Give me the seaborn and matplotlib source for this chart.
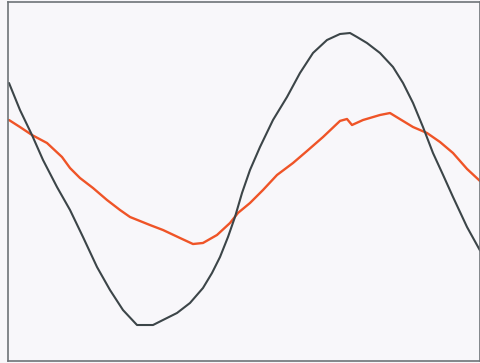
import matplotlib
matplotlib.use('Agg')
import matplotlib.pyplot as plt
import seaborn as sns
import pandas as pd

# channel 1 (dark trace)
ch1_t = [0.021, 0.254, 0.508, 0.742, 1.038, 1.314, 1.589, 1.886, 2.161, 2.436, 2.733,
         3.072, 3.284, 3.581, 3.856, 4.131, 4.322, 4.492, 4.661, 4.809, 4.958, 5.127,
         5.339, 5.614, 5.911, 6.186, 6.462, 6.758, 7.034, 7.246, 7.394, 7.606, 7.881,
         8.157, 8.369, 8.581, 8.792, 9.004, 9.216, 9.428, 9.725, 10.0]
ch1_v = [2.195, 1.593, 1.036, 0.479, -0.123, -0.635, -1.237, -1.906, -2.418, -2.864, -3.198,
         -3.198, -3.086, -2.930, -2.707, -2.373, -2.039, -1.682, -1.236, -0.791, -0.256, 0.256,
         0.769, 1.370, 1.883, 2.418, 2.864, 3.153, 3.287, 3.309, 3.220, 3.086, 2.864,
         2.552, 2.195, 1.750, 1.214, 0.635, 0.150, -0.345, -1.014, -1.537]

# channel 2 (orange trace)
ch2_t = [0.021, 0.254, 0.508, 0.826, 1.144, 1.314, 1.525, 1.801, 2.097, 2.373, 2.585,
         3.008, 3.284, 3.644, 3.919, 4.131, 4.428, 4.703, 4.873, 5.127, 5.403, 5.699,
         6.038, 6.335, 6.674, 7.034, 7.182, 7.288, 7.521, 7.881, 8.093, 8.305, 8.581,
         8.877, 9.153, 9.428, 9.725, 10.0]
ch2_v = [1.370, 1.214, 1.036, 0.858, 0.546, 0.300, 0.078, -0.145, -0.412, -0.635, -0.791,
         -0.970, -1.081, -1.259, -1.393, -1.370, -1.192, -0.925, -0.700, -0.479, -0.189, 0.145,
         0.412, 0.680, 0.991, 1.350, 1.393, 1.259, 1.370, 1.482, 1.526, 1.390, 1.214,
         1.081, 0.880, 0.635, 0.280, 0.011]

df1 = pd.DataFrame({'t': ch1_t, 'v': ch1_v})
df2 = pd.DataFrame({'t': ch2_t, 'v': ch2_v})

sns.set_style('white')
fig = plt.figure(figsize=(4.81, 3.63), dpi=100, facecolor='#f8f7fa')
ax = fig.add_axes([8 / 481, 2 / 363, 472 / 481, 359 / 363])
ax.set_facecolor('#f8f7fa')

sns.lineplot(data=df2, x='t', y='v', ax=ax, color='#ef5427', linewidth=1.7, estimator=None)
sns.lineplot(data=df1, x='t', y='v', ax=ax, color='#3c4548', linewidth=1.5, estimator=None)

ax.set_xlim(0, 10)
ax.set_ylim(-4, 4)
ax.set_xticks([])
ax.set_yticks([])
ax.set_xlabel('')
ax.set_ylabel('')
for side in ax.spines.values():
    side.set_color('#6e7378')
    side.set_linewidth(1.2)

fig.savefig('out.png', dpi=100, facecolor=fig.get_facecolor())
